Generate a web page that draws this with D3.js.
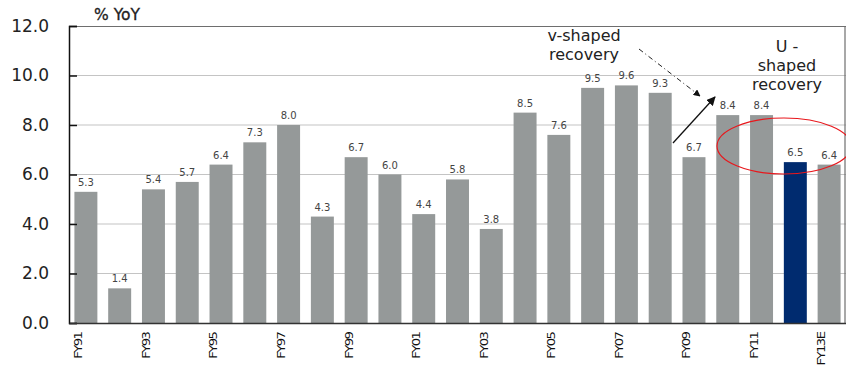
<!DOCTYPE html>
<html>
<head>
<meta charset="utf-8">
<script src="https://cdn.jsdelivr.net/npm/d3@7"></script>
<style>
  body { margin: 0; background: #fff; }
  svg text { font-family: "DejaVu Sans", Verdana, sans-serif; }
</style>
</head>
<body>
<div id="chart"></div>
<script>
// fiscal years and growth (% YoY)
const years = ["FY91","FY92","FY93","FY94","FY95","FY96","FY97","FY98","FY99","FY00","FY01","FY02",
  "FY03","FY04","FY05","FY06","FY07","FY08","FY09","FY10","FY11","FY12","FY13E"];
const growth = [5.3, 1.4, 5.4, 5.7, 6.4, 7.3, 8.0, 4.3, 6.7, 6.0, 4.4, 5.8,
  3.8, 8.5, 7.6, 9.5, 9.6, 9.3, 6.7, 8.4, 8.4, 6.5, 6.4];
const highlightYear = "FY12";
const yTicks = [0, 2, 4, 6, 8, 10, 12];
const xTickLabels = ["FY91","FY93","FY95","FY97","FY99","FY01","FY03","FY05","FY07","FY09","FY11","FY13E"];

const data = years.map((y, i) => ({ year: y, value: growth[i] }));

const W = 846, H = 368;
const margin = { top: 26, right: 0, bottom: 45, left: 69 };
const width = W - margin.left - margin.right,
    height = H - margin.top - margin.bottom;

const svg = d3.select("#chart").append("svg")
    .attr("width", W)
    .attr("height", H);

const g = svg.append("g")
    .attr("transform", `translate(${margin.left},${margin.top})`);

const x = d3.scaleBand()
    .domain(years)
    .range([0, width])
    .paddingInner(0.32)
    .paddingOuter(0.16);

const y = d3.scaleLinear()
    .domain([0, 12])
    .range([height, 0]);

// gridlines
g.selectAll(".grid")
    .data(yTicks.filter(t => t > 0 && t < 12))
    .join("line")
    .attr("x1", 0).attr("x2", width)
    .attr("y1", d => y(d)).attr("y2", d => y(d))
    .attr("stroke", "#c4c4c4")
    .attr("stroke-width", 1.2);

// frame top / right
g.append("line").attr("x1", 0).attr("x2", width).attr("y1", 0.5).attr("y2", 0.5)
    .attr("stroke", "#6e6e6e").attr("stroke-width", 1.2);
g.append("line").attr("x1", width - 1).attr("x2", width - 1).attr("y1", 0).attr("y2", height)
    .attr("stroke", "#6e6e6e").attr("stroke-width", 1.2);

// bars
g.selectAll(".bar")
    .data(data)
    .join("rect")
    .attr("class", "bar")
    .attr("x", d => x(d.year))
    .attr("y", d => y(d.value))
    .attr("width", x.bandwidth())
    .attr("height", d => height - y(d.value))
    .attr("fill", d => d.year === highlightYear ? "#002b6f" : "#959999");

// value labels
g.selectAll(".val")
    .data(data)
    .join("text")
    .attr("x", d => x(d.year) + x.bandwidth() / 2)
    .attr("y", d => y(d.value) - 6)
    .attr("text-anchor", "middle")
    .attr("font-size", "10px")
    .attr("fill", "#444")
    .text(d => d.value.toFixed(1));

// y axis
const yAxis = g.append("g")
    .call(d3.axisLeft(y).tickValues(yTicks).tickSize(-8).tickPadding(20).tickFormat(d3.format(".1f")));
yAxis.select(".domain").attr("stroke", "#111").attr("stroke-width", 1.5);
yAxis.selectAll(".tick line").attr("stroke", "#111").attr("stroke-width", 1.5);
yAxis.selectAll(".tick text").attr("font-size", "17px").attr("fill", "#222")
    .attr("font-family", "'Liberation Sans', Arial, sans-serif");

// x axis (labels sit at the left part of each bar, stretched along the text)
const xAxis = g.append("g")
    .attr("transform", `translate(0,${height})`)
    .call(d3.axisBottom(x).tickValues(xTickLabels).tickSize(0));
xAxis.select(".domain").attr("stroke", "#333").attr("stroke-width", 1.5);
xAxis.selectAll(".tick text")
    .attr("transform", `translate(${-x.bandwidth() / 2 + 4},0) rotate(-90) scale(1.2,1)`)
    .attr("text-anchor", "end")
    .attr("x", -8)
    .attr("y", 0)
    .attr("dy", "0.35em")
    .attr("font-size", "11px")
    .attr("font-family", "'Liberation Sans Narrow', 'Liberation Sans', Arial, sans-serif")
    .attr("letter-spacing", "-1.3px")
    .attr("fill", "#111");

// unit label
svg.append("text")
    .attr("x", 94).attr("y", 20)
    .attr("font-size", "15.5px")
    .attr("fill", "#222")
    .attr("stroke", "#222").attr("stroke-width", 0.3)
    .text("% YoY");

// annotations
const ann = svg.append("g").attr("fill", "#222").attr("font-size", "16px").attr("text-anchor", "middle");
ann.append("text").attr("x", 584).attr("y", 41).text("v-shaped");
ann.append("text").attr("x", 584).attr("y", 60).text("recovery");
ann.append("text").attr("x", 787).attr("y", 52).text("U -");
ann.append("text").attr("x", 787).attr("y", 71).text("shaped");
ann.append("text").attr("x", 787).attr("y", 90).text("recovery");

const defs = svg.append("defs");
defs.append("marker")
    .attr("id", "arrow")
    .attr("viewBox", "0 0 10 10")
    .attr("refX", 9).attr("refY", 5)
    .attr("markerWidth", 7).attr("markerHeight", 7)
    .attr("orient", "auto")
    .append("path")
    .attr("d", "M0,0L10,5L0,10z")
    .attr("fill", "#111");

// dash-dot arrow
svg.append("line")
    .attr("x1", 639).attr("y1", 49)
    .attr("x2", 700).attr("y2", 96)
    .attr("stroke", "#222").attr("stroke-width", 1)
    .attr("stroke-dasharray", "5,3,1,3")
    .attr("marker-end", "url(#arrow)");

// solid arrow
svg.append("line")
    .attr("x1", 673).attr("y1", 143)
    .attr("x2", 715).attr("y2", 97)
    .attr("stroke", "#111").attr("stroke-width", 1.3)
    .attr("marker-end", "url(#arrow)");

// red ellipse around the U-shaped part
svg.append("ellipse")
    .attr("cx", 784).attr("cy", 146)
    .attr("rx", 67).attr("ry", 28)
    .attr("fill", "none")
    .attr("stroke", "#e8171c")
    .attr("stroke-width", 1.2);
</script>
</body>
</html>
